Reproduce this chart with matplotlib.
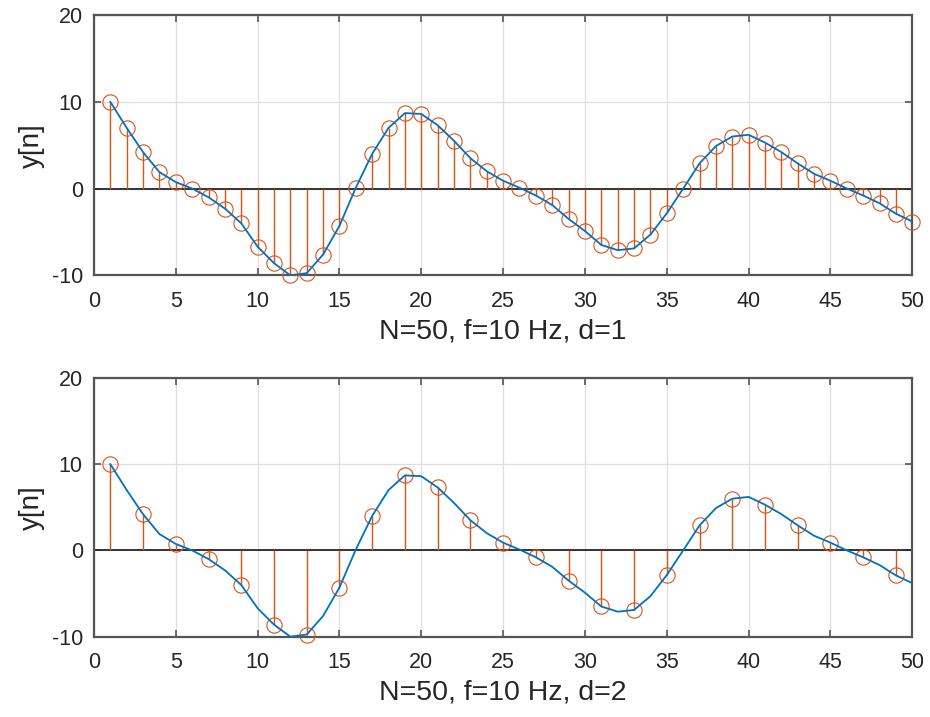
import numpy as np
import matplotlib.pyplot as plt

plt.rcParams['font.family'] = ['Liberation Sans', 'DejaVu Sans']
plt.rcParams['axes.unicode_minus'] = False

# samples
n_d1 = list(range(1, 51))
y_d1 = [10.0, 7.0, 4.2, 1.9, 0.75, 0.0, -1.0, -2.3, -4.0, -6.7,
        -8.6, -10.0, -9.75, -7.6, -4.3, 0.1, 4.0, 7.0, 8.7, 8.6,
        7.3, 5.5, 3.5, 2.0, 0.9, 0.1, -0.8, -1.9, -3.5, -4.9,
        -6.5, -7.1, -6.9, -5.3, -2.85, 0.0, 2.9, 4.9, 6.0, 6.2,
        5.3, 4.2, 2.9, 1.7, 0.9, 0.0, -0.8, -1.7, -2.9, -3.8]

n_d2 = list(range(1, 51, 2))
y_d2 = [10.0, 4.2, 0.75, -1.0, -4.0, -8.6, -9.75, -4.3, 4.0, 8.7,
        7.3, 3.5, 0.9, -0.8, -3.5, -6.5, -6.9, -2.85, 2.9, 6.0,
        5.3, 2.9, 0.9, -0.8, -2.9]

# continuous signal (blue curve)
t_curve = n_d1
y_curve = y_d1

xlabels = ['N=50, f=10 Hz, d=1', 'N=50, f=10 Hz, d=2']

BLUE = '#0072BD'
ORANGE = '#D95319'
FRAME = '#555555'
TEXT = '#262626'


def Plot_Stem(ax, n, y, xlabel):
    ax.axhline(0, color='#262626', lw=1.3, zorder=2)
    markerline, stemlines, baseline = ax.stem(n, y, linefmt='-', markerfmt='o', basefmt=' ')
    stemlines.set_color(ORANGE)
    stemlines.set_linewidth(1.0)
    stemlines.set_zorder(3)
    markerline.set_color(ORANGE)
    markerline.set_markerfacecolor('none')
    markerline.set_markersize(11)
    markerline.set_markeredgewidth(0.8)
    markerline.set_clip_on(False)
    markerline.set_zorder(4)

    ax.plot(t_curve, y_curve, color=BLUE, lw=1.3, zorder=5)

    ax.set_xlim([0, 50])
    ax.set_ylim([-10, 20])
    ax.set_xticks(np.arange(0, 51, 5))
    ax.set_yticks([-10, 0, 10, 20])
    ax.grid(True, color='#dedede', lw=0.9)
    ax.set_axisbelow(True)
    ax.tick_params(direction='in', top=True, right=True, length=5, width=1.2,
                   color=FRAME, labelsize=15.5, labelcolor=TEXT)
    ax.tick_params(axis='x', pad=11)
    ax.tick_params(axis='y', pad=8)
    for s in ax.spines.values():
        s.set_color(FRAME)
        s.set_linewidth(1.6)
    ax.set_ylabel('y[n]', fontsize=20, color=TEXT, labelpad=5)
    ax.set_xlabel(xlabel, fontsize=20.5, color=TEXT, labelpad=5)


def Main():
    fig = plt.figure(figsize=(9.3, 7.17), dpi=100)
    ax1 = fig.add_axes([0.101, 0.616, 0.880, 0.363])
    ax2 = fig.add_axes([0.101, 0.112, 0.880, 0.361])
    Plot_Stem(ax1, n_d1, y_d1, xlabels[0])
    Plot_Stem(ax2, n_d2, y_d2, xlabels[1])
    fig.savefig('out.png', dpi=100)
    plt.close()


if __name__ == '__main__':
    Main()
